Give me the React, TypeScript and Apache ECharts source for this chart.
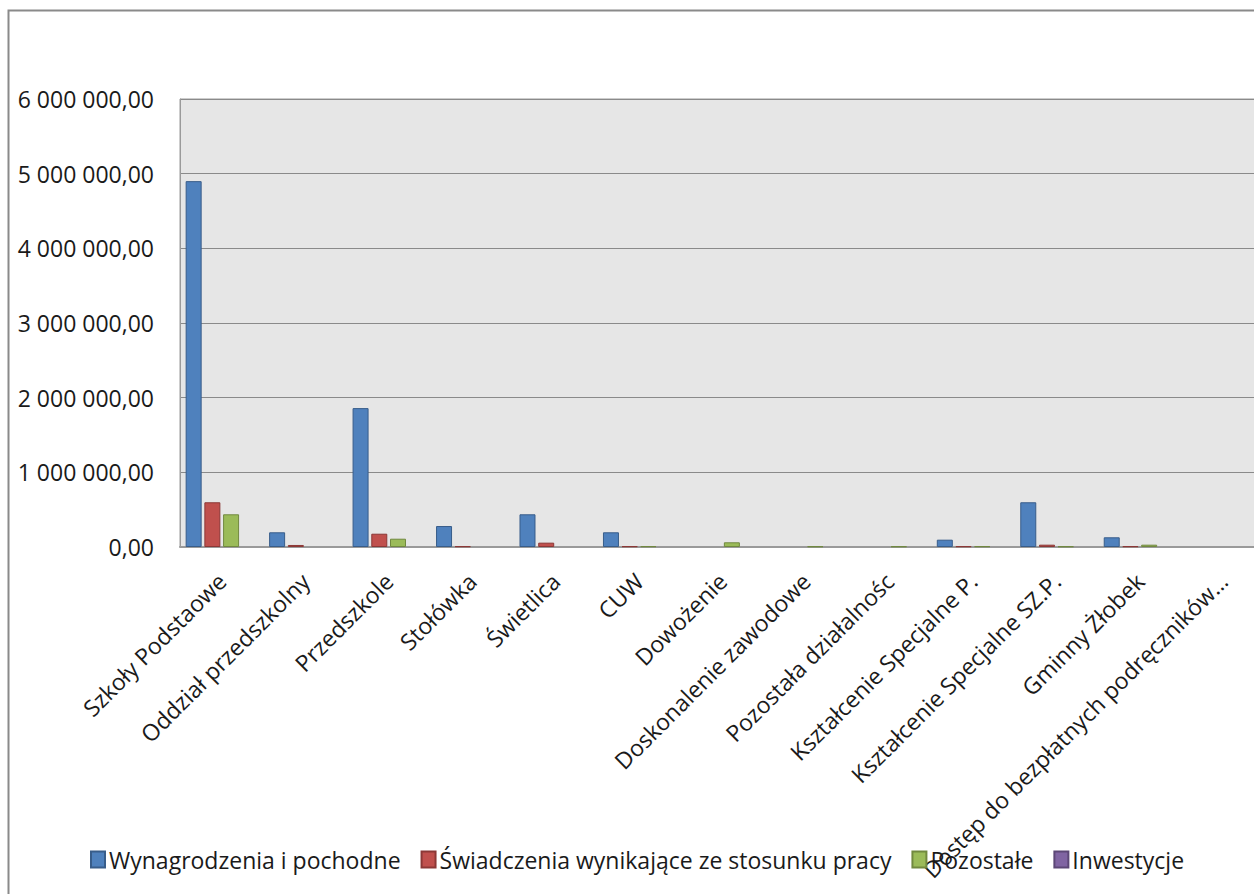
import React, { useEffect, useRef } from "react";
import * as echarts from "echarts";

const categories = [
  "Szkoły Podstaowe",
  "Oddział przedszkolny",
  "Przedszkole",
  "Stołówka",
  "Świetlica",
  "CUW",
  "Dowożenie",
  "Doskonalenie zawodowe",
  "Pozostała działalnośc",
  "Kształcenie Specjalne P.",
  "Kształcenie Specjalne SZ.P.",
  "Gminny Żłobek",
  "Dostęp do bezpłatnych podręczników…",
];

const seriesNames = [
  "Wynagrodzenia i pochodne",
  "Świadczenia wynikające ze stosunku pracy",
  "Pozostałe",
  "Inwestycje",
];

const wynagrodzenia = [4900000, 197000, 1860000, 281000, 438000, 197000, 0, 0, 0, 98000, 599000, 130000, 0];
const swiadczenia = [599000, 27000, 178000, 10000, 58000, 10000, 0, 0, 0, 10000, 31000, 10000, 0];
const pozostale = [438000, 0, 111000, 0, 0, 10000, 63000, 8000, 8000, 10000, 8000, 31000, 0];
const inwestycje = [0, 0, 0, 0, 0, 0, 0, 0, 0, 0, 0, 0, 0];

const yTicks = { min: 0, max: 6000000, interval: 1000000 };

const fills = ["#4F81BD", "#C0504D", "#9BBB59", "#8064A2"];
const borders = ["#385D8A", "#8C3836", "#71893F", "#5C4776"];

function fmt(v: number): string {
  const s = Math.round(v).toString();
  const parts: string[] = [];
  for (let i = s.length; i > 0; i -= 3) parts.unshift(s.slice(Math.max(0, i - 3), i));
  return parts.join(" ") + ",00";
}

export default function App() {
  const ref = useRef<HTMLDivElement>(null);
  useEffect(() => {
    if (!ref.current) return;
    const chart = echarts.init(ref.current, null, { renderer: "svg" });
    const font = "'Open Sans', sans-serif";
    const data = [wynagrodzenia, swiadczenia, pozostale, inwestycje];
    chart.setOption({
      animation: false,
      backgroundColor: "#ffffff",
      textStyle: { fontFamily: font },
      graphic: [
        {
          type: "rect",
          shape: { x: 8.5, y: 10.5, width: 1400, height: 1000 },
          style: { fill: "none", stroke: "#8a8a8a", lineWidth: 2 },
          silent: true,
        },
      ],
      grid: {
        left: 180,
        top: 99,
        width: 1085,
        height: 448,
        show: true,
        backgroundColor: "#E6E6E6",
        borderColor: "#9a9a9a",
        borderWidth: 1,
        outerBoundsMode: "none",
        containLabel: false,
      },
      legend: {
        data: seriesNames,
        left: 85,
        top: 843,
        icon: "rect",
        itemWidth: 14,
        itemHeight: 16,
        itemGap: 20,
        textStyle: { fontSize: 23, color: "#1a1a1a", fontFamily: font, padding: [0, 0, 0, -1] },
      },
      xAxis: {
        type: "category",
        data: categories,
        axisLine: { show: true, lineStyle: { color: "#9a9a9a", width: 2 } },
        axisTick: { show: false },
        axisLabel: {
          interval: 0,
          rotate: 45,
          margin: 30,
          fontSize: 23,
          color: "#1a1a1a",
          fontFamily: font,
        },
      },
      yAxis: {
        type: "value",
        min: yTicks.min,
        max: yTicks.max,
        interval: yTicks.interval,
        axisLine: { show: true, lineStyle: { color: "#9a9a9a" } },
        axisTick: { show: false },
        splitLine: { show: true, lineStyle: { color: "#8a8a8a", width: 1 } },
        axisLabel: {
          formatter: (v: number) => fmt(v),
          fontSize: 23,
          margin: 26,
          color: "#1a1a1a",
          fontFamily: font,
        },
      },
      series: seriesNames.map((name, i) => ({
        name,
        type: "bar",
        data: data[i].map((v) => (v === 0 ? "-" : v)),
        barWidth: 16,
        barGap: "17%",
        itemStyle: { color: fills[i], borderColor: borders[i], borderWidth: 1 },
      })),
    });
    return () => chart.dispose();
  }, []);
  return (
    <div
      ref={ref}
      style={{ position: "fixed", left: 0, top: 0, width: 1254, height: 894 }}
    />
  );
}
